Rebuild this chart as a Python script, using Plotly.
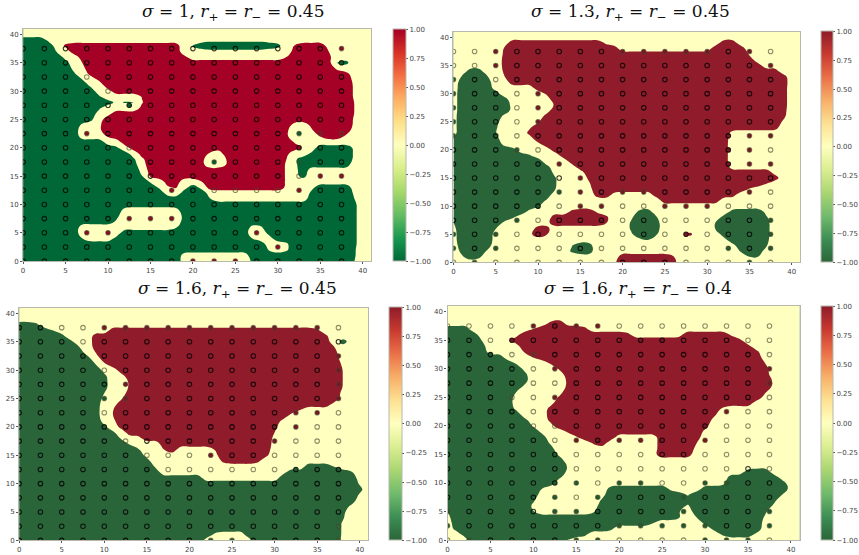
import numpy as np
import plotly.graph_objects as go

W, H = 859, 555

TITLES = [
    "<i>σ</i> = 1, <i>r</i><sub>+</sub> = <i>r</i><sub>−</sub> = 0.45",
    "<i>σ</i> = 1.3, <i>r</i><sub>+</sub> = <i>r</i><sub>−</sub> = 0.45",
    "<i>σ</i> = 1.6, <i>r</i><sub>+</sub> = <i>r</i><sub>−</sub> = 0.45",
    "<i>σ</i> = 1.6, <i>r</i><sub>+</sub> = <i>r</i><sub>−</sub> = 0.4",
]
TICKS = [0, 5, 10, 15, 20, 25, 30, 35, 40]
CBAR_TICKS = [-1, -0.75, -0.5, -0.25, 0, 0.25, 0.5, 0.75, 1]
SAMPLE_GRID = [0, 2.5, 5, 7.5, 10, 12.5, 15, 17.5, 20, 22.5, 25, 27.5, 30, 32.5, 35, 37.5]

# Predicted class along each row, top row is y=40, bottom row y=0.
# Each token: class letter + x where this class begins (g = weak green).
P1_ROWS = [
    "", "G0 Y2.8 g21 Y29",
    "G0 Y3.6 R4.7 Y18.4 G19.8 Y30.4 R31.9 Y35.7",
    "G0 Y3.9 R5.5 Y18.4 g21 Y29 R31.7 Y36",
    "G0 Y4.7 R6.6 Y19.2 R31 Y36.2",
    "G0 Y5.3 R7 Y36.3 G36.8 Y38.4",
    "G0 Y5.8 R7.2 Y36.9",
    "G0 Y6.1 R7.7 Y38.4",
    "G0 Y7 R8.8 Y38.8",
    "G0 Y7.8 R9.5 Y38.9",
    "G0 Y8.4 R10.3 Y38.9",
    "G0 Y9.1 R14 Y38.9",
    "G0 Y10.9 G11.8 Y13.2 R14.1 Y39",
    "G0 Y9.1 R13.8 Y39",
    "G0 Y8.6 R10.3 Y39",
    "G0 Y8.2 R9.3 Y38.9",
    "G0 Y6.8 R9.1 Y31.6 R33.8 Y38.9",
    "G0 Y6.4 R9.1 Y31.1 R34.1 Y38.6",
    "G0 Y6.6 R9.9 Y31.1 R35 Y37.8",
    "G0 Y9.6 R11.4 Y31.9",
    "G0 Y11.2 R12.3 Y33 G34.5 Y38.9",
    "G0 Y12.6 R13.6 Y21.9 R23.5 Y31.2 G33.8 Y38.9",
    "G0 Y13.2 R14.2 Y21.2 R24 Y31 G32.1 Y38.9",
    "G0 Y13.4 R14.4 Y21.2 R24 Y30.9 G32.2 Y38.5",
    "G0 Y13.8 R14.6 Y30.9 G32.3 Y33.5",
    "G0 Y14 R14.8 Y30.9 G32.2 Y33.3",
    "G0 Y15 R16.7 Y18.4 R21 Y30.9",
    "G0 Y15.9 R17.1 Y18.1 G19.3 Y20.8 R21.5 Y30.9 R31.9 Y33.1 G34.2 Y38.7",
    "G0 Y16.7 G18.6 Y21.8 G33.8 Y38.9",
    "G0 Y22 G33.5 Y39",
    "G0 Y39.2",
    "G0 Y11.7 G18.3 Y39.2",
    "G0 Y11.2 G18.8 Y39.2",
    "G0 Y10.9 G18.7 Y39.2",
    "G0 Y6.6 G18.1 Y26.8 G28.1 Y39.2",
    "G0 Y6.4 G11.5 Y26.4 G28.7 Y39.2",
    "G0 Y7 G10.7 Y27 G29.3 Y39.2",
    "G0 Y28.5 G31.2 Y39.2",
    "G0 Y28.9 G31.2 Y39.1",
    "G0 Y18.6 G26.6 Y39.1",
    "G0 Y18.6 G26.9 Y39",
]
P2_ROWS = [
    "",
    "R6.4 Y17.9 R31.4 Y33.5",
    "R5.9 Y19.5 R30.4 Y34.5",
    "R5.9 Y34.9",
    "R5.8 Y35.5",
    "R5.8 Y36.4",
    "G1.6 Y3.4 R5.9 Y38.4",
    "G0.9 Y4.1 R6 Y39.4",
    "G0.6 Y4.4 R6.6 Y39.5",
    "G0.5 Y4.6 R9.5 Y39.4",
    "G0.4 Y5.4 R10.9 Y39.4",
    "G0.4 Y6.4 R11.4 Y39.4",
    "G0.4 Y6.8 R12 Y39.4",
    "G0.4 Y6.8 R11.4 Y39.3",
    "G0.3 Y5.8 R10.7 Y39.2",
    "G0.3 Y5.3 R10.1 Y38.9",
    "G0.3 Y5.1 R9.1 Y38.4",
    "G0.3 Y5 R8.7 Y32.7",
    "G0.1 Y5.3 R9.4 Y32.5",
    "G0 Y5.8 R10.3 Y32.4",
    "G0 Y7.3 R11.6 Y32.4",
    "G0 Y9.1 R12.6 Y32.4",
    "G0 Y10.5 R13.6 Y32.4",
    "G0 Y11.3 R14.4 Y32.6",
    "G0 Y11.8 R15.4 Y37.7",
    "G0 Y12.1 R15.9 Y38.6",
    "G0 Y12.1 R16.1 Y37",
    "G0 Y12.1 R16.3 Y34.9",
    "G0 Y11.5 R16.7 Y18.7 R23.6 Y33.3",
    "G0 Y10.9 R24.5 Y31.4",
    "G0 Y10.1",
    "G0 Y8.7 R13.8 Y16.9 G21.8 Y23.4 G32.7 Y36.8",
    "G0 Y7.1 R11.5 Y18.3 G21.1 Y24.1 G31.6 Y37.1",
    "G0.1 Y5.8 R11.3 Y18.1 G20.9 Y24.3 G30.9 Y37.3",
    "G0.2 Y5 R9.6 Y11.3 G20.9 Y24.3 G30.9 Y37.3",
    "G0.3 Y4.7 R9.1 Y11.1 G21.1 Y24.1 R27 Y28.3 G31.6 Y37.3",
    "G0.3 Y4.7 G22.2 Y23 G32.3 Y37.2",
    "G0.5 Y4.4 G14 Y16.4 G33.3 Y37.1",
    "G0.8 Y3.9 G13.8 Y16.5 G33.9 Y36.6",
    "G1.1 Y3.2 R19.5 Y26.1 G35 Y36",
    "R19.1 Y26.3",
]
P3_ROWS = [
    "", "",
    "G0 Y2.2",
    "G0 Y4 R10.6 Y35.2",
    "G0 Y5.3 R8.6 Y36.2",
    "G0 Y6.3 R8.6 Y36.6 G37.3 Y38.7",
    "G0 Y7.1 R8.7 Y37.1",
    "G0 Y7.7 R9 Y37.3",
    "G0 Y8.4 R9.5 Y37.6",
    "G0 Y9 R10.2 Y37.9",
    "G0 Y9.8 R11.6 Y38",
    "G0 Y10.2 R12.3 Y38",
    "G0 Y10.3 R12.9 Y38",
    "G0 Y10.3 R12.9 Y38",
    "G0 Y10 R12.6 Y37.8",
    "G0 Y9.8 R12.1 Y37.7",
    "G0 Y9.5 R11.4 Y36.7",
    "G0 Y9.4 R11 Y33",
    "G0 Y9.4 R11 Y31.7",
    "G0 Y9.7 R11.2 Y30.7",
    "G0 Y10.2 R11.7 Y30.2",
    "G0 Y11.2 R12.5 Y30",
    "G0 Y11.9 R14.3 Y29.8",
    "G0 Y12.9 R16.6 Y29.7",
    "G0 Y14.1 R17 Y18.5 R23 Y29.5",
    "G0 Y14.7 R23.2 Y29.2",
    "G0 Y15.3 R23.8 Y28.2",
    "G0 Y15.9 G33.5 Y37",
    "G0 Y16.5 G31.3 Y39.1",
    "G0 Y21.5 G30.5 Y39.7",
    "G0 Y39.9",
    "G0 Y40.3",
    "G0 Y39.9",
    "G0 Y39.5",
    "G0 Y38.8",
    "G0 Y38.2",
    "G0 Y38.1",
    "G0 Y37.9",
    "G0 Y37.9",
    "G0 Y22.8 G26.5 Y37.9",
    "G0 Y21.6 G27.4 Y37.8",
]
P4_ROWS = [
    "", "",
    "R11.8 Y13.7",
    "G0 Y2.5 R10 Y16.2",
    "G0 Y3.5 R8.3 Y21.2 R27.3 Y32.9",
    "G0 Y4 R7.1 Y34.2",
    "G0 Y4.3 R8.3 Y35.2",
    "G0 Y4.6 R8.9 Y36.2",
    "G0 Y6.6 R10 Y36.6",
    "G0 Y7.9 R11.9 Y37",
    "G0 Y8.8 R12.9 Y37.3",
    "G0 Y9.2 R13.6 Y37.4",
    "G0 Y9.3 R13.9 Y37.9",
    "G0 Y8.9 R13.9 Y37.9",
    "G0 Y8 R13.4 Y37.1",
    "G0 Y7.7 R12.9 Y36.7",
    "G0 Y7.6 R12.3 Y35.6",
    "G0 Y7.8 R11.7 Y31.9",
    "G0 Y8.5 R11.6 Y31.2",
    "G0 Y9.3 R11.8 Y30.8",
    "G0 Y9.9 R12.3 Y30.3",
    "G0 Y10.8 R13.9 Y29.8",
    "G0 Y11.4 R15.1 Y19.6 R24.4 Y29.4",
    "G0 Y11.9 R16.9 Y18.5 R24.4 Y29",
    "G0 Y12.3 R24.4 Y28.8",
    "G0 Y12.8 R24.2 Y28.4",
    "G0 Y13.5",
    "G0 Y14",
    "G0 Y13.9 G34.7 Y37.5",
    "G0 Y13.2 G32.7 Y38.6",
    "G0 Y12.5 G32.3 Y39.4",
    "G0 Y11 G18.7 Y25.8 G29.6 Y39.8",
    "G0 Y10.6 G18.3 Y27.3 G28.1 Y39",
    "G0 Y10.1 G17.9 Y38.2",
    "G0 Y9.8 G17.5 Y27.3 G28.1 Y37.9",
    "G0.1 Y10 G17.1 Y27 G28.5 Y37.1",
    "G0.2 Y27.1 G29 Y36.9",
    "G0.5 Y24 G29.8 Y36.7",
    "G0.7 Y19.2 G30.8 Y36.6",
    "G1.6 Y16.2 G31.9 Y35.8",
    "G2.5 Y13.9",
]

# Samples: top row y=37.5 ... bottom y=0; r/g marks a sample drawn solid.
P1_DOTS = [
    "...............r", "...............g", "................", "................",
    ".....g..........", "................", "...r.........g..", ".............r..",
    ".........g......", "..............rr", ".......r.....r..", "................",
    ".....rrr........", "...rr......r....", "............r...", "........rrr.....",
]
P2_DOTS = [
    "..r.....rrrrr.r.", "..r............r", "g...............", "g.g.r...........",
    "g...r...........", "g...r...........", "g.g..........rrr", "...g.........rr.",
    "g...gr.......rrr", "......r.........", ".....gr.rr....r.", "....g.rr..rrr...",
    "...g...r.......g", "g.g........r...g", "g.g..........g.g", ".g............g.",
]
P3_DOTS = [
    "gg..rrrrrrrrrrr.", "................", "...g...........r", "...............r",
    "....gr.........r", "....gr.........r", ".............rr.", "....g.......rr..",
    "............r...", ".........r......", "......g......ggg", "................",
    "................", "................", "................", ".........gg.....",
]
P4_DOTS = [
    "....rrrr........", "...r.....rr.....", "..g.............", ".....r.........r",
    "...............r", ".....r..........", "...g.........r..", "............r...",
    "......rrrrr.r...", "g....g..........", "g...............", ".....gg.gg..gg..",
    "....gg.g...g....", "g....ggg...g...g", "g.......ggggg..g", ".g....gg....ggg.",
]

VIVID = ["#006837", "#1a9850", "#66bd63", "#a6d96a", "#d9ef8b", "#ffffbf",
         "#fee08b", "#fdae61", "#f46d43", "#d73027", "#a50026"]
MUTED = ["#2a6539", "#3d8f55", "#71bb6c", "#aad672", "#dbee91", "#ffffbf",
         "#fde092", "#f8ae67", "#ea7048", "#c73a30", "#8f1b2b"]

# left, right, top, bottom of the plot area; left, right of the colour bar
BOXES = [
    (21.3, 372.7, 29, 263, 394.3, 407.3),
    (455.7, 805.7, 32, 264.3, 827, 839.3),
    (17.3, 369.7, 310, 544.3, 391, 404),
    (449.7, 805, 308.3, 544, 826.7, 839),
]
TITLE_POS = [(233, 13), (634, 13), (238, 292), (642, 292)]
ALL_ROWS = [P1_ROWS, P2_ROWS, P3_ROWS, P4_ROWS]
ALL_DOTS = [P1_DOTS, P2_DOTS, P3_DOTS, P4_DOTS]
SCALES = [VIVID, MUTED, MUTED, MUTED]
RED_DOT = ["#8c0a25", "#7a1526", "#7a1526", "#7a1526"]
GREEN_DOT = ["#0a5a30", "#1f5a30", "#1f5a30", "#1f5a30"]

CLASS = {"G": -1.0, "Y": 0.0, "R": 1.0, "g": -0.3}
NODES = np.arange(0, 42)
FINE = np.arange(-0.5, 41.5, 0.02) + 0.01


def row_to_field(row):
    vals = np.zeros_like(FINE)
    for tok in row.split():
        start = float(tok[1:])
        if start <= 0:
            start = -1.0
        vals[FINE >= start] = CLASS[tok[0]]
    idx = np.floor(FINE + 0.5).astype(int)
    return [vals[idx == n].mean() for n in NODES]


def field(rows):
    z = np.array([row_to_field(r) for r in reversed([""] + rows)])
    up = np.vstack([z[1:], z[-1:]])
    down = np.vstack([z[:1], z[:-1]])
    return 0.1 * up + 0.8 * z + 0.1 * down


def colorscale(stops):
    return [[i / (len(stops) - 1), c] for i, c in enumerate(stops)]


fig = go.Figure()
layout = {}
for i in range(4):
    n = "" if i == 0 else str(i + 1)
    l, r, t, b, cl, cr = BOXES[i]
    ax = dict(range=[0, 41], tickvals=TICKS, ticks="outside", ticklen=2, tickwidth=1,
              tickcolor="#555555", showgrid=False, zeroline=False, showline=True,
              mirror=True, linecolor="#b8b8ac", linewidth=1.2,
              tickfont=dict(family="DejaVu Sans", size=7, color="#444444"))
    layout["xaxis" + n] = dict(ax, domain=[l / W, r / W], anchor="y" + n)
    layout["yaxis" + n] = dict(ax, domain=[1 - b / H, 1 - t / H], anchor="x" + n)
    xa, ya = "x" + n, "y" + n
    cs = colorscale(SCALES[i])
    z = field(ALL_ROWS[i])

    fig.add_trace(go.Contour(
        x=NODES, y=NODES, z=z.tolist(), xaxis=xa, yaxis=ya,
        zmin=-1, zmax=1, colorscale=cs, showscale=False, hoverinfo="skip",
        autocontour=False,
        contours=dict(start=-0.5, end=0.5, size=1, coloring="fill", showlines=False),
        line=dict(width=0, smoothing=1.3),
    ))

    for letter, col in (("r", RED_DOT[i]), ("g", GREEN_DOT[i])):
        xs, ys = [], []
        for row, yv in zip(ALL_DOTS[i], reversed(SAMPLE_GRID)):
            for ch, xv in zip(row, SAMPLE_GRID):
                if ch == letter:
                    xs.append(xv)
                    ys.append(yv)
        fig.add_trace(go.Scatter(
            x=xs, y=ys, xaxis=xa, yaxis=ya, mode="markers", hoverinfo="skip",
            showlegend=False, marker=dict(size=4.5, color=col, line=dict(width=0)),
        ))

    gx, gy = np.meshgrid(SAMPLE_GRID, SAMPLE_GRID)
    gx, gy = gx.ravel(), gy.ravel()
    # Rings read darker on the coloured regions than on the pale background.
    on_region = [abs(z[int(round(y)), int(round(x))]) > 0.5 for x, y in zip(gx, gy)]
    ring_colors = ["rgba(0,0,0,0.8)" if o else "rgba(70,70,45,0.62)" for o in on_region]
    fig.add_trace(go.Scatter(
        x=gx, y=gy, xaxis=xa, yaxis=ya, mode="markers",
        hoverinfo="skip", showlegend=False,
        marker=dict(size=4.5, color="rgba(0,0,0,0)",
                    line=dict(width=1.1, color=ring_colors)),
    ))

    fig.add_trace(go.Scatter(
        x=[None], y=[None], xaxis=xa, yaxis=ya, mode="markers", showlegend=False,
        hoverinfo="skip",
        marker=dict(color=[0], cmin=-1, cmax=1, colorscale=cs, showscale=True,
                    colorbar=dict(
                        x=cl / W, xanchor="left", y=1 - b / H, yanchor="bottom",
                        len=(b - t) / H, lenmode="fraction",
                        thickness=cr - cl, thicknessmode="pixels",
                        xpad=0, ypad=0, outlinewidth=1, outlinecolor="#b8b8ac",
                        tickvals=CBAR_TICKS, tickformat=".2f", ticks="outside",
                        ticklen=2, tickwidth=1, tickcolor="#555555",
                        tickfont=dict(family="DejaVu Sans", size=7, color="#444444"),
                    )),
    ))

annotations = [
    dict(x=p[0] / W, y=1 - p[1] / H, xref="paper", yref="paper", text=txt,
         showarrow=False, xanchor="center", yanchor="middle",
         font=dict(family="DejaVu Serif", size=17, color="#111111"))
    for txt, p in zip(TITLES, TITLE_POS)
]

fig.update_layout(width=W, height=H, autosize=False,
                  margin=dict(l=0, r=0, t=0, b=0, pad=0),
                  paper_bgcolor="white", plot_bgcolor="white",
                  showlegend=False, annotations=annotations, **layout)
fig.write_html("out.html", config=dict(displayModeBar=False),
               post_script="document.body.style.margin='0';document.documentElement.style.overflow='hidden';")
